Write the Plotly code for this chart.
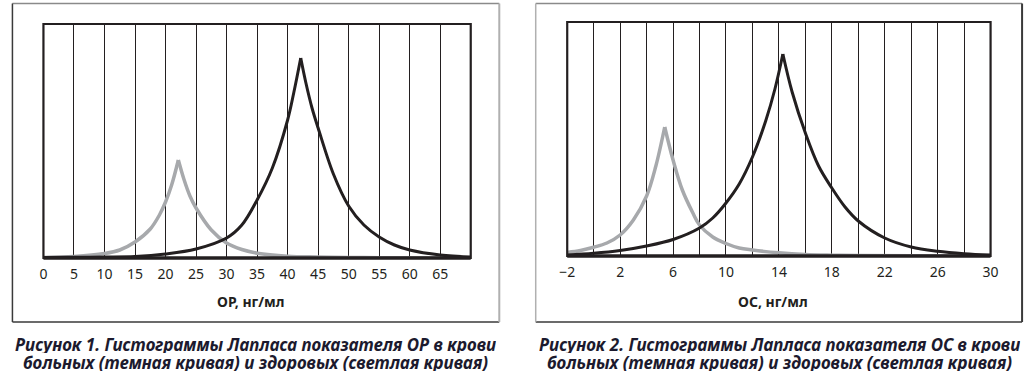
import plotly.graph_objects as go

# ---------------- data ----------------
# Figure 1: OP, ng/ml
op_x_dark = [0, 5, 10, 15, 20, 25, 30, 32.5, 35, 37.5, 40, 41, 42.15, 43, 44, 45, 47.5, 50, 52.5, 55, 57.5, 60, 65, 70]
op_y_dark = [0.5, 0.7, 1.0, 1.5, 4, 9, 20, 33, 58, 90, 138, 165, 200, 175, 150, 130, 84, 52, 33, 21, 13, 8, 3, 1]
op_x_light = [0, 5, 10, 12.5, 15, 17.5, 19, 20, 21, 22.1, 23, 24, 25, 27.5, 30, 32.5, 35, 40, 45, 50, 55, 60, 65, 70]
op_y_light = [0.5, 1.5, 4.5, 8, 16, 29, 43, 56, 73, 98, 79, 62, 50, 28, 15, 8.5, 4.8, 1.8, 1, 0.5, 0.3, 0.2, 0.1, 0]
op_ticks = [0, 5, 10, 15, 20, 25, 30, 35, 40, 45, 50, 55, 60, 65]

# Figure 2: OS, ng/ml
os_x_dark = [-2, 0, 2, 4, 6, 8, 9, 10, 11, 12, 13, 13.7, 14.3, 15, 16, 17, 18, 19, 20, 22, 24, 26, 28, 30]
os_y_dark = [1, 2.7, 5.5, 10, 16.5, 28, 38, 53, 72, 99, 135, 167, 202, 164, 123, 90, 68, 49, 35, 18, 9, 4.7, 2.3, 1]
os_x_light = [-2, -1, 0, 1, 2, 3, 4, 4.7, 5.37, 6, 6.7, 7.5, 8, 9, 10, 11, 12, 14, 16, 18, 20, 24, 30]
os_y_light = [3.6, 5.5, 8.7, 13, 21, 36, 60, 90, 129, 96, 66, 43, 31, 19, 12.5, 8, 6, 3.2, 1.5, 0.8, 0.4, 0.2, 0]
os_tickvals = [-2, 2, 6, 10, 14, 18, 22, 26, 30]
os_ticktext = ["\u22122", "2", "6", "10", "14", "18", "22", "26", "30"]

title1 = "ОР, нг/мл"
title2 = "ОС, нг/мл"
caption1 = ["Рисунок 1. Гистограммы Лапласа показателя ОР в крови",
            "больных (темная кривая) и здоровых (светлая кривая)"]
caption2 = ["Рисунок 2. Гистограммы Лапласа показателя ОС в крови",
            "больных (темная кривая) и здоровых (светлая кривая)"]

# ---------------- styling ----------------
W, H = 1035, 375
INK = "#231f20"
LIGHT = "#a7a9ac"
FONT = "Noto Sans"


def px(x):
    return x / W


def py(y):
    return 1 - y / H


fig = go.Figure()


def add_peak_curve(xs, ys, color, width, xa, ya):
    # draw rising and falling halves as smooth splines meeting at the peak (cusp)
    k = ys.index(max(ys))
    for sx, sy in ((xs[:k + 1], ys[:k + 1]), (xs[k:], ys[k:])):
        fig.add_trace(go.Scatter(x=sx, y=sy, mode="lines",
                                 line=dict(color=color, width=width, shape="spline", smoothing=1.0),
                                 xaxis=xa, yaxis=ya, hoverinfo="skip"))


add_peak_curve(op_x_light, op_y_light, LIGHT, 3.5, "x", "y")
add_peak_curve(op_x_dark, op_y_dark, INK, 3, "x", "y")
add_peak_curve(os_x_light, os_y_light, LIGHT, 3.5, "x2", "y2")
add_peak_curve(os_x_dark, os_y_dark, INK, 3, "x2", "y2")

tickfont = dict(family=FONT, size=14, color=INK)

fig.update_layout(
    width=W, height=H,
    margin=dict(l=0, r=0, t=0, b=0),
    paper_bgcolor="white", plot_bgcolor="white",
    showlegend=False,
    xaxis=dict(domain=[px(36), px(470)], range=[0, 70], tickvals=op_ticks,
               showgrid=True, gridcolor=INK, gridwidth=1, zeroline=False,
               showline=False, ticks="", ticklabelstandoff=6, tickfont=tickfont,
               anchor="y", fixedrange=True),
    yaxis=dict(domain=[py(258), py(24)], range=[0, 234], showticklabels=False,
               showgrid=False, zeroline=False, showline=False, anchor="x", fixedrange=True),
    xaxis2=dict(domain=[px(568), px(998)], range=[-2, 30], tickvals=os_tickvals,
                ticktext=os_ticktext,
                showgrid=True, gridcolor=INK, gridwidth=1, zeroline=False,
                minor=dict(tick0=-2, dtick=2, showgrid=True, gridcolor=INK, gridwidth=1, ticks=""),
                showline=False, ticks="", ticklabelstandoff=6, tickfont=tickfont,
                anchor="y2", fixedrange=True),
    yaxis2=dict(domain=[py(256), py(22)], range=[0, 234], showticklabels=False,
                showgrid=False, zeroline=False, showline=False, anchor="x2", fixedrange=True),
)

shapes = []
# plot frames
for xa, ya in (("x", "y"), ("x2", "y2")):
    shapes.append(dict(type="rect", xref=f"{xa} domain", yref=f"{ya} domain",
                       x0=0, x1=1, y0=0, y1=1, line=dict(color=INK, width=2.2)))
    shapes.append(dict(type="line", xref=f"{xa} domain", yref=f"{ya} domain",
                       x0=0, x1=1, y0=0, y1=0, line=dict(color=INK, width=3.5)))


def outer_box(x0, y0, x1, y1, left_c, right_c, top_c, bottom_c):
    out = []
    out.append(dict(type="line", xref="paper", yref="paper", x0=px(x0), x1=px(x1), y0=py(y0), y1=py(y0),
                    line=dict(color=top_c, width=1.5)))
    out.append(dict(type="line", xref="paper", yref="paper", x0=px(x0), x1=px(x1), y0=py(y1), y1=py(y1),
                    line=dict(color=bottom_c, width=1.5)))
    out.append(dict(type="line", xref="paper", yref="paper", x0=px(x0), x1=px(x0), y0=py(y0), y1=py(y1),
                    line=dict(color=left_c, width=1.5)))
    out.append(dict(type="line", xref="paper", yref="paper", x0=px(x1), x1=px(x1), y0=py(y0), y1=py(y1),
                    line=dict(color=right_c, width=2)))
    return out


shapes += outer_box(4.5, 3.5, 499, 322, "#3a3a3a", "#b0b0b0", "#8a8a8a", "#3a3a3a")
shapes += outer_box(536, 3.5, 1030, 322, "#b0b0b0", "#3a3a3a", "#8a8a8a", "#3a3a3a")
fig.update_layout(shapes=shapes)

annotations = [
    dict(text=f"<b>{title1}</b>", x=px(247), y=py(301), xref="paper", yref="paper",
         showarrow=False, xanchor="center", yanchor="middle",
         font=dict(family=FONT, size=14, color=INK)),
    dict(text=f"<b>{title2}</b>", x=px(777), y=py(301), xref="paper", yref="paper",
         showarrow=False, xanchor="center", yanchor="middle",
         font=dict(family=FONT, size=14, color=INK)),
]
cap_font = dict(family=FONT, size=17, color="#1c1a2e")
for cx, cap in ((251, caption1), (784, caption2)):
    for i, line in enumerate(cap):
        annotations.append(dict(text=f"<b><i>{line}</i></b>", x=px(cx), y=py(344 + 18 * i),
                                xref="paper", yref="paper", showarrow=False, height=17,
                                xanchor="center", yanchor="middle", font=cap_font))
fig.update_layout(annotations=annotations)

fig.write_html("out.html", config={"displayModeBar": False},
               post_script="document.body.style.margin='0px';document.body.style.overflow='hidden';")
